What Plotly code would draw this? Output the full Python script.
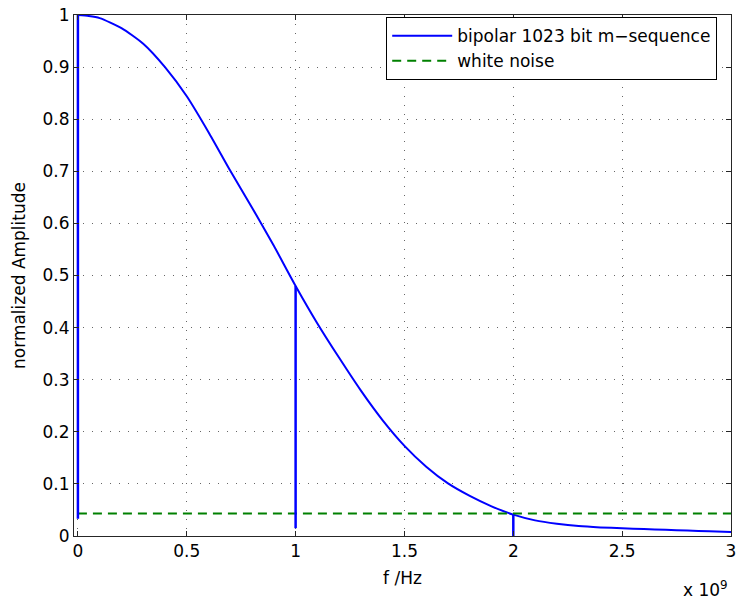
import plotly.graph_objects as go

# frequency in units of 1e9 Hz
curve_f = [0.0, 0.05, 0.1, 0.2, 0.3, 0.4, 0.5, 0.6, 0.7, 0.8, 0.9, 1.0,
           1.1, 1.2, 1.3, 1.4, 1.5, 1.6, 1.7, 1.8, 1.9, 2.0,
           2.1, 2.2, 2.3, 2.4, 2.5, 2.6, 2.7, 2.8, 2.9, 3.0]
curve_amp = [1.0, 0.998, 0.994, 0.975, 0.945, 0.900, 0.844, 0.775, 0.701, 0.630, 0.557, 0.480,
             0.408, 0.342, 0.279, 0.222, 0.173, 0.133, 0.101, 0.077, 0.057, 0.041,
             0.030, 0.0235, 0.019, 0.0165, 0.0148, 0.0133, 0.0118, 0.0104, 0.009, 0.0077]
spike_f = [0.0, 0.0, None, 1.0, 1.0, None, 2.0, 2.0]
spike_amp = [0.033, 1.0, None, 0.015, 0.48, None, 0.0, 0.041]
noise_f = [0.0, 3.0]
noise_amp = [0.043, 0.043]

x_ticks = [0, 0.5, 1, 1.5, 2, 2.5, 3]
x_tick_labels = ["0", "0.5", "1", "1.5", "2", "2.5", "3"]
y_ticks = [0, 0.1, 0.2, 0.3, 0.4, 0.5, 0.6, 0.7, 0.8, 0.9, 1]
y_tick_labels = ["0", "0.1", "0.2", "0.3", "0.4", "0.5", "0.6", "0.7", "0.8", "0.9", "1"]

BLUE = "#0000ff"
GREEN = "#008000"
FONT = "DejaVu Sans, Liberation Sans, Arial, sans-serif"
FS = 17

fig = go.Figure()
fig.add_trace(go.Scatter(x=curve_f, y=curve_amp, mode="lines",
                         line=dict(color=BLUE, width=2, shape="spline", smoothing=0.6),
                         name="bipolar 1023 bit m\u2212sequence"))
fig.add_trace(go.Scatter(x=noise_f, y=noise_amp, mode="lines",
                         line=dict(color=GREEN, width=2, dash="9px,6px"),
                         name="white noise"))
fig.add_trace(go.Scatter(x=spike_f, y=spike_amp, mode="lines",
                         line=dict(color=BLUE, width=2.5), showlegend=False,
                         connectgaps=False))

axis_common = dict(showline=True, linecolor="#262626", linewidth=1, mirror="ticks",
                   ticks="inside", ticklen=5, tickcolor="#262626",
                   showgrid=True, gridcolor="rgba(0,0,0,0.6)", gridwidth=1, griddash="1px,8px",
                   zeroline=False, ticklabeloverflow="allow",
                   tickfont=dict(family=FONT, size=FS, color="#000000"))

fig.update_xaxes(range=[-0.018, 3.0], tickvals=x_ticks, ticktext=x_tick_labels,
                 title=dict(text="f /Hz", font=dict(family=FONT, size=FS, color="#000000"), standoff=11),
                 **axis_common)
fig.update_yaxes(range=[0, 1.0], tickvals=y_ticks, ticktext=y_tick_labels,
                 title=dict(text="normalized Amplitude", font=dict(family=FONT, size=FS, color="#000000"), standoff=12),
                 **axis_common)

fig.add_annotation(text="x 10<sup>9</sup>", xref="paper", yref="paper", x=0.998, y=-0.102,
                   xanchor="right", yanchor="middle", showarrow=False,
                   font=dict(family=FONT, size=FS, color="#000000"))

fig.update_layout(
    width=741, height=601,
    margin=dict(l=74, r=5, t=15, b=65),
    plot_bgcolor="white", paper_bgcolor="white",
    font=dict(family=FONT, size=FS, color="#000000"),
    legend=dict(x=0.979, y=0.996, xanchor="right", yanchor="top",
                bgcolor="white", bordercolor="#000000", borderwidth=1,
                font=dict(family=FONT, size=FS, color="#000000"),
                tracegroupgap=0, itemwidth=60),
)

fig.write_html("out.html")
